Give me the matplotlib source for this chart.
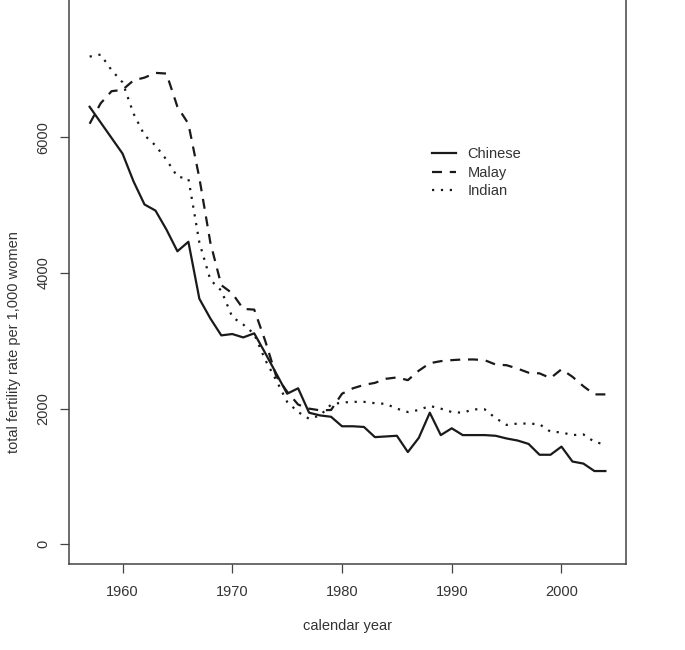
import matplotlib
matplotlib.use("Agg")
import matplotlib.pyplot as plt

plt.rcParams['font.family'] = ['Liberation Sans', 'DejaVu Sans']

# calendar years and fertility rates per 1,000 women
years = list(range(1957, 2005))

chinese = [6450, 6220, 5990, 5760, 5350, 5010, 4920, 4640, 4320, 4460,
           3620, 3330, 3080, 3100, 3050, 3110, 2820, 2520, 2220, 2300,
           1940, 1900, 1880, 1740, 1740, 1730, 1580, 1590, 1600, 1360,
           1570, 1940, 1610, 1710, 1610, 1610, 1610, 1600, 1560, 1530,
           1480, 1320, 1320, 1440, 1220, 1190, 1080, 1080]

malay = [6200, 6500, 6680, 6700, 6840, 6880, 6950, 6940, 6450, 6200,
         5400, 4450, 3820, 3700, 3470, 3460, 3000, 2480, 2250, 2060,
         2000, 1975, 1980, 2220, 2300, 2350, 2380, 2440, 2460, 2420,
         2560, 2670, 2700, 2715, 2725, 2725, 2715, 2650, 2640, 2590,
         2530, 2520, 2450, 2580, 2470, 2330, 2210, 2210]

indian = [7190, 7220, 6990, 6810, 6350, 6030, 5880, 5670, 5420, 5390,
          4450, 3900, 3740, 3350, 3240, 3100, 2720, 2420, 2100, 1950,
          1850, 1900, 2060, 2090, 2100, 2100, 2080, 2070, 2000, 1950,
          1980, 2040, 2000, 1950, 1940, 1990, 1990, 1860, 1760, 1780,
          1780, 1770, 1660, 1650, 1610, 1620, 1510, 1470]

x_ticks = [1960, 1970, 1980, 1990, 2000]
y_ticks = [0, 2000, 4000, 6000]

W, H = 685, 650
fig = plt.figure(figsize=(W / 100, H / 100), dpi=100)
# plot box; its top edge lies above the image, as in the reference
ax = fig.add_axes([69 / W, (H - 563.7) / H, (626 - 69) / W, 584.7 / H])

ink = '#1a1a1a'
ax.plot(years, chinese, color=ink, lw=1.6, label='Chinese')
ax.plot(years, malay, color=ink, lw=1.6, dashes=(4.5, 3.5), label='Malay')
ax.plot(years, indian, color=ink, lw=1.6, dashes=(1, 3), label='Indian')

ax.set_xlim(1955.12, 2005.88)
ax.set_ylim(-286, 8334)
ax.set_xticks(x_ticks)
ax.set_yticks(y_ticks)
ax.set_xticklabels([str(t) for t in x_ticks])
ax.set_yticklabels([str(t) for t in y_ticks], rotation=90, va='center')
ax.tick_params(direction='out', length=6.5, width=0.9, color='#444444',
               labelsize=10.5, labelcolor='#333333')
ax.tick_params(axis='x', pad=9)
ax.tick_params(axis='y', pad=7)
for s in ax.spines.values():
    s.set_color('#444444')
    s.set_linewidth(1.1)

fig.text(348 / W, 1 - 626 / H, 'calendar year', ha='center', va='center',
         fontsize=10.5, color='#333333')
fig.text(14 / W, 1 - 342 / H, 'total fertility rate per 1,000 women',
         ha='center', va='center', rotation=90, fontsize=10.5, color='#333333')

leg = ax.legend(loc='upper left', bbox_to_anchor=(431.7 / W, 1 - 147 / H),
                bbox_transform=fig.transFigure, frameon=False, fontsize=10.5,
                handlelength=1.7, handletextpad=0.75, labelspacing=0.32,
                borderpad=0, borderaxespad=0)
for t in leg.get_texts():
    t.set_color('#333333')

fig.savefig('out.png', dpi=100, facecolor='white')
